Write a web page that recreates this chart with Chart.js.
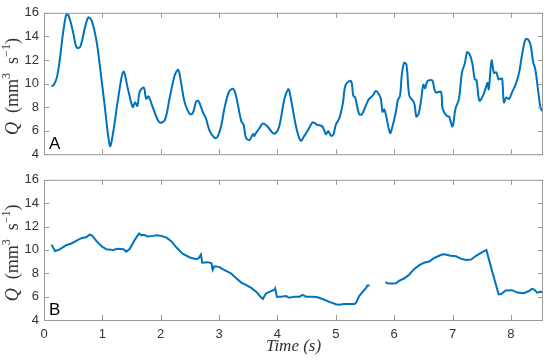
<!DOCTYPE html>
<html>
<head>
<meta charset="utf-8">
<script src="https://cdn.jsdelivr.net/npm/chart.js@4.4.1/dist/chart.umd.min.js"></script>
<style>
  body { margin: 0; background: #fff; }
  .panel { position: absolute; left: 0; width: 550px; }
</style>
</head>
<body>
<div class="panel" style="top:0;height:167px"><canvas id="topChart"></canvas></div>
<div class="panel" style="top:167px;height:193px"><canvas id="bottomChart"></canvas></div>
<script>
// panel A: flow rate over time
const topTime = [0.13, 0.17, 0.22, 0.27, 0.33, 0.39, 0.44, 0.50, 0.56, 0.62, 0.70, 0.76, 0.82, 0.90, 0.96,
  1.04, 1.13, 1.18, 1.27, 1.36, 1.44, 1.52, 1.56, 1.60, 1.64, 1.71, 1.75, 1.79, 1.87, 1.98,
  2.07, 2.15, 2.24, 2.30, 2.35, 2.41, 2.50, 2.55, 2.61, 2.65, 2.72, 2.77, 2.84, 2.92, 2.97,
  3.04, 3.09, 3.17, 3.24, 3.29, 3.38, 3.42, 3.46, 3.52, 3.58, 3.60, 3.62, 3.69, 3.75, 3.83, 3.92, 3.97,
  4.03, 4.12, 4.18, 4.20, 4.26, 4.33, 4.40, 4.46, 4.53, 4.60, 4.63, 4.68, 4.77, 4.83, 4.87, 4.92, 4.96,
  5.00, 5.06, 5.12, 5.17, 5.26, 5.30, 5.33, 5.40, 5.45, 5.52, 5.57, 5.63, 5.68, 5.71, 5.77, 5.80, 5.83, 5.86, 5.93, 5.97,
  6.03, 6.06, 6.10, 6.13, 6.17, 6.21, 6.26, 6.32, 6.35, 6.38, 6.42, 6.46, 6.50, 6.53, 6.57, 6.63, 6.66, 6.71, 6.80, 6.83, 6.90, 6.94,
  7.00, 7.05, 7.11, 7.16, 7.21, 7.25, 7.29, 7.34, 7.38, 7.41, 7.46, 7.52, 7.57, 7.60, 7.62, 7.67, 7.71, 7.75, 7.79, 7.82, 7.85, 7.88, 7.92, 7.97,
  8.02, 8.08, 8.14, 8.19, 8.25, 8.30, 8.34, 8.38, 8.42, 8.47, 8.51, 8.55];
const topQ = [9.75, 9.9, 10.5, 12.0, 14.4, 15.95, 15.5, 14.3, 13.05, 13.1, 14.7, 15.6, 15.3, 13.6, 11.4,
  8.1, 4.7, 5.7, 8.7, 11.0, 9.5, 8.0, 8.4, 8.1, 9.3, 9.65, 8.7, 8.9, 7.9, 6.7,
  6.9, 8.7, 10.7, 11.15, 10.05, 8.4, 7.4, 7.5, 8.5, 8.5, 7.6, 7.1, 5.95, 5.4, 5.45,
  6.5, 7.85, 9.3, 9.55, 8.95, 6.8, 6.5, 5.4, 5.2, 5.7, 5.55, 5.7, 6.2, 6.6, 6.35, 5.8, 5.8,
  6.35, 8.7, 9.5, 9.45, 7.9, 6.1, 5.15, 5.55, 6.1, 6.7, 6.65, 6.5, 6.35, 5.7, 5.95, 5.55, 5.7,
  6.5, 7.05, 8.3, 9.9, 10.2, 8.95, 8.85, 7.4, 7.4, 8.2, 8.7, 8.95, 9.35, 9.3, 8.75, 7.6, 7.8, 7.3, 5.8, 6.35,
  7.6, 8.55, 8.95, 10.7, 11.75, 11.6, 8.95, 8.55, 8.2, 7.2, 7.45, 8.55, 9.9, 9.6, 10.2, 10.3, 10.2, 9.25, 9.3, 7.85, 7.25, 7.2,
  6.35, 7.85, 8.7, 10.9, 11.7, 12.65, 12.5, 11.7, 10.35, 10.3, 8.55, 8.95, 9.65, 10.05, 9.5, 11.95, 10.9, 10.95, 10.35, 10.4, 10.4, 8.4, 8.8, 8.7,
  9.25, 9.9, 10.9, 12.4, 13.75, 13.7, 13.2, 11.85, 11.15, 9.25, 7.9, 7.6];

// panel B (null = missing stretch)
const bottomTime = [0.13, 0.15, 0.19, 0.22, 0.27, 0.38, 0.47, 0.56, 0.64, 0.73, 0.78, 0.82, 0.90, 0.99,
  1.07, 1.18, 1.27, 1.36, 1.41, 1.47, 1.56, 1.63, 1.67, 1.71, 1.78, 1.87, 1.93,
  2.01, 2.10, 2.18, 2.27, 2.38, 2.50, 2.58, 2.62, 2.65, 2.69, 2.71, 2.81, 2.87, 2.89, 2.92,
  3.00, 3.06, 3.12, 3.20, 3.29, 3.38, 3.46, 3.55, 3.64, 3.69, 3.75, 3.80, 3.86, 3.95, 3.96, 3.99,
  4.06, 4.15, 4.20, 4.29, 4.38, 4.43, 4.49, 4.60, 4.69, 4.77, 4.89,
  5.00, 5.06, 5.14, 5.23, 5.32, 5.35, 5.40, 5.46, 5.52, 5.54, 5.58, 5.70, 5.85, 5.88, 5.97,
  6.03, 6.09, 6.17, 6.26, 6.34, 6.43, 6.51, 6.60, 6.68, 6.77, 6.83, 6.88, 6.97,
  7.06, 7.14, 7.23, 7.32, 7.39, 7.48, 7.58, 7.68, 7.79, 7.83, 7.91,
  8.02, 8.11, 8.22, 8.31, 8.36, 8.40, 8.45, 8.50, 8.55];
const bottomQ = [10.45, 10.25, 9.9, 9.95, 10.05, 10.4, 10.55, 10.8, 11.0, 11.1, 11.3, 11.25, 10.75, 10.3,
  10.05, 10.0, 10.1, 10.05, 9.85, 10.1, 10.9, 11.4, 11.25, 11.3, 11.15, 11.2, 11.25,
  11.2, 11.05, 10.75, 10.2, 9.65, 9.35, 9.25, 9.2, 9.3, 9.6, 8.9, 8.95, 8.85, 8.3, 8.6,
  8.55, 8.35, 8.2, 8.0, 7.6, 7.2, 7.0, 6.75, 6.4, 6.1, 5.8, 6.25, 6.4, 6.6, 6.7, 6.0,
  6.0, 6.05, 5.9, 6.0, 6.0, 6.15, 6.0, 6.0, 5.95, 5.8, 5.55,
  5.35, 5.3, 5.37, 5.37, 5.37, 5.5, 6.05, 6.4, 6.75, 6.95, 6.95, null, 7.25, 7.15, 7.13,
  7.15, 7.37, 7.55, 7.9, 8.35, 8.7, 8.9, 9.0, 9.3, 9.5, 9.62, 9.6, 9.5,
  9.45, 9.25, 9.13, 9.18, 9.45, 9.72, 10.0, 8.14, 6.2, 6.2, 6.52,
  6.55, 6.35, 6.3, 6.48, 6.67, 6.6, 6.34, 6.42, 6.4];

const yTicks = [4, 6, 8, 10, 12, 14, 16];
const xTicks = [0, 1, 2, 3, 4, 5, 6, 7, 8];

const lineColor = "#0072BD";
const frameColor = "#9a9a9a";
const labelColor = "#333333";

// draws a row of text pieces (font, offset) centred on (x, y), optionally rotated
function drawRuns(ctx, runs, x, y, angle) {
  ctx.save();
  ctx.translate(x, y);
  ctx.rotate(angle);
  ctx.textBaseline = "middle";
  ctx.textAlign = "left";
  ctx.fillStyle = labelColor;
  let total = 0;
  runs.forEach((r) => {
    ctx.font = r.font;
    total += ctx.measureText(r.t).width;
  });
  let cx = -total / 2;
  runs.forEach((r) => {
    ctx.font = r.font;
    ctx.fillText(r.t, cx, r.dy || 0);
    cx += ctx.measureText(r.t).width;
  });
  ctx.restore();
}

const serif = "'Liberation Serif', 'DejaVu Serif', serif";
const yTitleRuns = [
  { t: "Q", font: "italic 18px " + serif },
  { t: "  (mm", font: "18px " + serif },
  { t: "3", font: "12px " + serif, dy: -6 },
  { t: "  s", font: "18px " + serif },
  { t: "\u22121", font: "12px " + serif, dy: -6 },
  { t: ")", font: "18px " + serif },
];

// MATLAB-style box with inward ticks, panel letter and titles
const framePlugin = {
  id: "frame",
  afterDraw(chart, args, opts) {
    const { ctx, chartArea: a } = chart;
    const xs = chart.scales.x;
    const ys = chart.scales.y;
    ctx.save();
    ctx.strokeStyle = frameColor;
    ctx.lineWidth = 1;
    ctx.strokeRect(a.left + 0.5, a.top + 0.5, a.right - a.left - 1, a.bottom - a.top);
    ctx.beginPath();
    xTicks.forEach((v) => {
      const px = Math.round(xs.getPixelForValue(v)) + 0.5;
      if (px > a.left + 1 && px < a.right - 1) {
        ctx.moveTo(px, a.bottom); ctx.lineTo(px, a.bottom - 5);
        ctx.moveTo(px, a.top); ctx.lineTo(px, a.top + 5);
      }
    });
    yTicks.forEach((v) => {
      const py = Math.round(ys.getPixelForValue(v)) + 0.5;
      ctx.moveTo(a.left, py); ctx.lineTo(a.left + 5, py);
      ctx.moveTo(a.right, py); ctx.lineTo(a.right - 5, py);
    });
    ctx.stroke();

    ctx.fillStyle = "#000";
    ctx.font = "17px 'Liberation Sans', Arial, sans-serif";
    ctx.textBaseline = "alphabetic";
    ctx.fillText(opts.letter, a.left + 5, a.bottom - 5);
    ctx.restore();

    drawRuns(ctx, yTitleRuns, 13, (a.top + a.bottom) / 2 + 3, -Math.PI / 2);
    if (opts.xTitle) {
      drawRuns(ctx, [
        { t: "Time (s)", font: "italic 17px " + serif },
      ], (a.left + a.right) / 2, a.bottom + 27, 0);
    }
  },
};

function makeChart(id, times, values, opts) {
  const points = times.map((t, i) => ({ x: t, y: values[i] }));
  return new Chart(document.getElementById(id).getContext("2d"), {
    type: "line",
    data: {
      datasets: [
        {
          data: points,
          borderColor: lineColor,
          borderWidth: 2,
          pointRadius: 0,
          tension: opts.tension,
          spanGaps: false,
          fill: false,
        },
      ],
    },
    options: {
      responsive: true,
      maintainAspectRatio: false,
      animation: false,
      events: [],
      layout: { padding: { top: opts.top, right: 7, left: 0, bottom: 0 } },
      plugins: {
        legend: { display: false },
        tooltip: { enabled: false },
        frame: { letter: opts.letter, xTitle: opts.showX },
      },
      scales: {
        x: {
          type: "linear",
          min: 0,
          max: 8.55,
          afterBuildTicks: (s) => { s.ticks = xTicks.map((v) => ({ value: v })); },
          afterFit: (s) => { s.height = opts.xHeight; },
          grid: { display: false, drawTicks: false },
          border: { display: false },
          ticks: {
            display: opts.showX,
            padding: 7,
            color: labelColor,
            font: { family: "'Liberation Sans', Arial, sans-serif", size: 13 },
          },
        },
        y: {
          min: 4,
          max: 16,
          afterBuildTicks: (s) => { s.ticks = yTicks.map((v) => ({ value: v })); },
          afterFit: (s) => { s.width = 44; },
          grid: { display: false, drawTicks: false },
          border: { display: false },
          ticks: {
            padding: 5,
            color: labelColor,
            font: { family: "'Liberation Sans', Arial, sans-serif", size: 13 },
          },
        },
      },
    },
    plugins: [framePlugin],
  });
}

makeChart("topChart", topTime, topQ, { letter: "A", showX: false, top: 11, xHeight: 10, tension: 0.35 });
makeChart("bottomChart", bottomTime, bottomQ, { letter: "B", showX: true, top: 8, xHeight: 40, tension: 0 });
</script>
</body>
</html>
